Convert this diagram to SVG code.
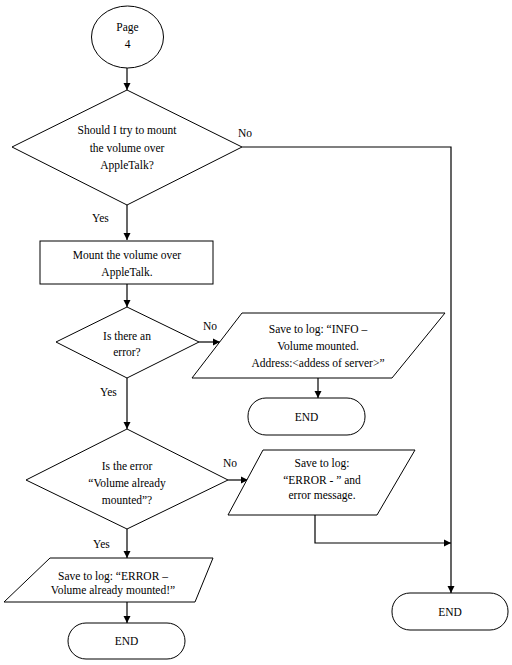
<svg xmlns="http://www.w3.org/2000/svg" width="512" height="665" viewBox="0 0 512 665">
<style>
.s{fill:#fff;stroke:#000;stroke-width:1}
.c{fill:none;stroke:#000;stroke-width:1.2}
text{font-family:"Liberation Serif","Times New Roman",serif;font-size:11.5px;fill:#000;text-anchor:middle}
.l{text-anchor:start}
</style>
<defs>
<marker id="a" markerWidth="8" markerHeight="8" refX="7" refY="4" orient="auto" markerUnits="userSpaceOnUse">
<path d="M0,0.5 L7,4 L0,7.5 Z" fill="#000"/>
</marker>
</defs>
<rect width="512" height="665" fill="#fff"/>
<g id="connectors">
<line class="c" x1="127" y1="68" x2="127" y2="90" marker-end="url(#a)"/>
<line class="c" x1="127" y1="205" x2="127" y2="240" marker-end="url(#a)"/>
<polyline class="c" points="242,147 451,147 451,593" marker-end="url(#a)"/>
<line class="c" x1="127" y1="284" x2="127" y2="307" marker-end="url(#a)"/>
<line class="c" x1="199" y1="342" x2="220" y2="342" marker-end="url(#a)"/>
<line class="c" x1="318" y1="378" x2="318" y2="398" marker-end="url(#a)"/>
<line class="c" x1="127" y1="378" x2="127" y2="429" marker-end="url(#a)"/>
<line class="c" x1="228" y1="480" x2="248" y2="480" marker-end="url(#a)"/>
<polyline class="c" points="315,515 315,543 451,543" marker-end="url(#a)"/>
<line class="c" x1="127" y1="529" x2="127" y2="558" marker-end="url(#a)"/>
<line class="c" x1="127" y1="602" x2="127" y2="623" marker-end="url(#a)"/>
<text class="l" x="238" y="137">No</text>
<text class="l" x="92" y="222">Yes</text>
<text class="l" x="203" y="330">No</text>
<text class="l" x="100" y="396">Yes</text>
<text class="l" x="223" y="467">No</text>
<text class="l" x="93" y="548">Yes</text>
</g>
<g id="start">
<ellipse class="s" cx="127.5" cy="37" rx="36" ry="31"/>
<text x="127.5" y="31">Page</text>
<text x="127.5" y="48">4</text>
</g>
<g id="decision1">
<polygon class="s" points="127,90 242,147 127,205 12,147"/>
<text x="127" y="134">Should I try to mount</text>
<text x="127" y="152">the volume over</text>
<text x="127" y="169">AppleTalk?</text>
</g>
<g id="mount">
<rect class="s" x="40" y="241" width="173" height="43"/>
<text x="127" y="259">Mount the volume over</text>
<text x="127" y="276">AppleTalk.</text>
</g>
<g id="decision2">
<polygon class="s" points="127,307 199,342 127,378 56,342"/>
<text x="127" y="340">Is there an</text>
<text x="127" y="356">error?</text>
</g>
<g id="log-info">
<polygon class="s" points="242,313 445,313 392,378 192,378"/>
<text x="318" y="333">Save to log: “INFO –</text>
<text x="318" y="350">Volume mounted.</text>
<text x="318" y="367">Address:&lt;addess of server&gt;”</text>
</g>
<g id="end1">
<rect class="s" x="248" y="398" width="117" height="37" rx="18" ry="18"/>
<text x="306.5" y="421">END</text>
</g>
<g id="decision3">
<polygon class="s" points="127,429 228,480 127,529 26,480"/>
<text x="127" y="470">Is the error</text>
<text x="127" y="487">“Volume already</text>
<text x="127" y="504">mounted”?</text>
</g>
<g id="log-error">
<polygon class="s" points="263,450 415,450 377,515 228,515"/>
<text x="322" y="467">Save to log:</text>
<text x="322" y="484">“ERROR - ” and</text>
<text x="322" y="499">error message.</text>
</g>
<g id="log-mounted">
<polygon class="s" points="50,558 213,558 195,602 4,602"/>
<text x="113" y="580">Save to log: “ERROR –</text>
<text x="113" y="594">Volume already mounted!”</text>
</g>
<g id="end2">
<rect class="s" x="68" y="623" width="117" height="36" rx="18" ry="18"/>
<text x="126.5" y="645">END</text>
</g>
<g id="end3">
<rect class="s" x="392" y="593" width="116" height="37" rx="18" ry="18"/>
<text x="450" y="616">END</text>
</g>
</svg>
